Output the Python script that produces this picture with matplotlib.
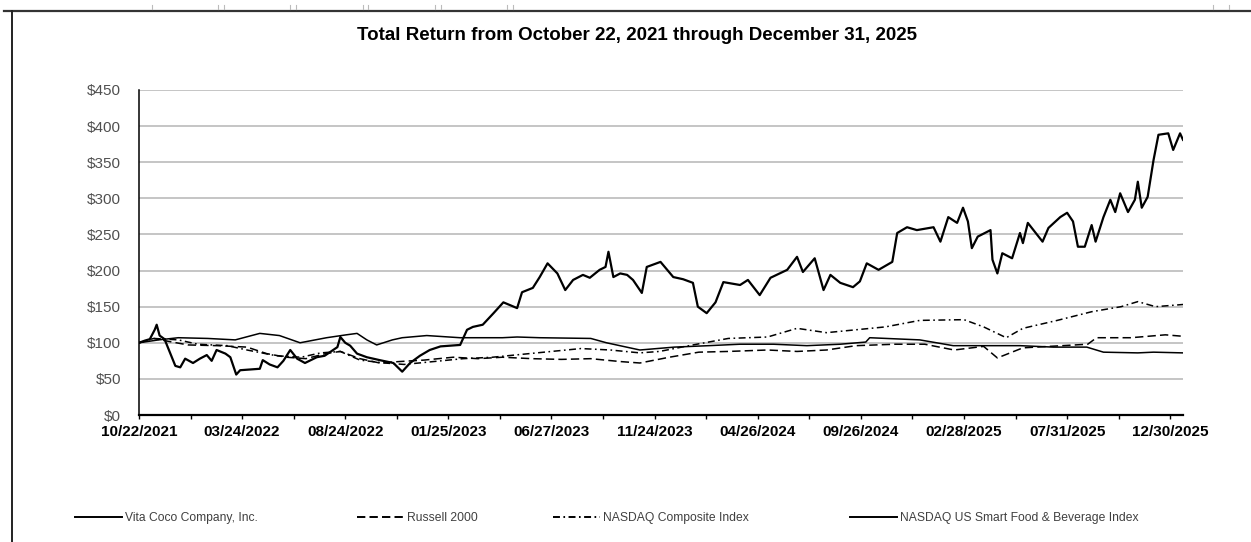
import matplotlib
matplotlib.use('Agg')
import matplotlib.pyplot as plt
from matplotlib.lines import Line2D
from matplotlib.ticker import FixedLocator

plt.rcParams['font.family'] = ['Liberation Sans', 'DejaVu Sans']
plt.rcParams['lines.scale_dashes'] = False

# ---------------- data (x = trading-day index since 10/22/2021) ----------------
tick_labels = ["10/22/2021", "03/24/2022", "08/24/2022", "01/25/2023", "06/27/2023",
               "11/24/2023", "04/26/2024", "09/26/2024", "02/28/2025", "07/31/2025",
               "12/30/2025"]
tick_days = [0, 105, 210, 315, 420, 525, 630, 735, 840, 945, 1050]
last_day = 1063

vita_days = [0, 6, 11, 16, 18, 21, 26, 32, 37, 42, 47, 55, 62, 69, 74, 79, 88, 93, 99, 103,
             113, 123, 126, 133, 141, 147, 154, 161, 169, 181, 189, 202, 205, 210, 215, 222,
             232, 245, 259, 268, 276, 286, 296, 307, 317, 327, 334, 340, 350, 361, 371, 378,
             385, 390, 401, 408, 416, 426, 434, 442, 452, 459, 469, 475, 478, 483, 490, 497,
             503, 512, 517, 531, 544, 554, 564, 569, 578, 587, 595, 612, 620, 632, 643, 660,
             670, 676, 688, 697, 704, 714, 727, 734, 741, 753, 767, 772, 782, 792, 809, 816,
             824, 833, 839, 844, 848, 854, 867, 869, 874, 879, 889, 897, 900, 905, 920, 926,
             938, 945, 951, 956, 963, 970, 974, 982, 989, 994, 999, 1007, 1014, 1017, 1021,
             1027, 1033, 1038, 1048, 1053, 1060, 1063]
vita_vals = [100, 103, 105, 118, 125, 110, 105, 85, 68, 66, 78, 72, 78, 83, 75, 90, 85, 80, 56, 62,
             63, 64, 76, 70, 66, 75, 90, 78, 72, 80, 82, 94, 108, 100, 96, 85,
             80, 76, 72, 60, 72, 82, 90, 95, 96, 97, 118, 122, 125, 141, 156, 152,
             148, 170, 176, 191, 210, 196, 173, 187, 194, 190, 201, 205, 226, 191, 196, 194,
             187, 169, 205, 212, 191, 188, 183, 150, 141, 156, 184, 180, 187, 166, 190, 201,
             219, 198, 217, 173, 194, 183, 177, 185, 210, 201, 212, 252, 260, 256, 260, 240,
             274, 266, 287, 268, 231, 247, 256, 215, 196, 224, 217, 252, 238, 266, 240, 259,
             274, 280, 268, 233, 233, 263, 240, 274, 298, 281, 307, 281, 298, 323, 287,
             302, 353, 388, 390, 367, 390, 381]

russell_days = [0, 15, 30, 50, 80, 110, 130, 150, 170, 190, 205, 225, 245, 265, 290, 320, 345,
                370, 400, 430, 460, 490, 510, 540, 570, 600, 640, 670, 700, 730, 770, 800,
                830, 860, 874, 900, 940, 966, 975, 1010, 1045, 1063]
russell_vals = [100, 106, 102, 97, 96, 94, 85, 80, 78, 85, 88, 78, 72, 74, 76, 80, 78,
                80, 78, 77, 78, 74, 72, 80, 87, 88, 90, 88, 90, 96, 98, 98,
                90, 95, 79, 93, 96, 98, 107, 107, 111, 109]

nasdaq_days = [0, 15, 40, 60, 90, 110, 140, 165, 185, 205, 225, 250, 270, 300, 330, 360, 390,
               420, 450, 480, 510, 530, 560, 600, 640, 670, 700, 730, 760, 795, 840, 860,
               883, 900, 935, 970, 1000, 1017, 1035, 1063]
nasdaq_vals = [100, 106, 104, 98, 96, 90, 82, 80, 86, 88, 76, 72, 70, 74, 78, 80, 84,
               88, 92, 90, 86, 88, 96, 106, 108, 120, 114, 118, 122, 131, 132, 122,
               107, 120, 131, 143, 150, 157, 150, 153]

food_days = [0, 20, 40, 70, 98, 123, 143, 164, 191, 211, 222, 232, 242, 258, 268, 293, 327,
             370, 385, 408, 460, 476, 510, 545, 580, 612, 646, 680, 714, 740, 744, 795,
             829, 863, 897, 931, 965, 982, 1017, 1033, 1063]
food_vals = [100, 104, 107, 106, 104, 113, 110, 100, 107, 111, 113, 104, 97, 104, 107, 110, 107,
             107, 108, 107, 106, 100, 90, 94, 96, 98, 98, 96, 98, 101, 107, 104,
             96, 96, 96, 94, 94, 87, 86, 87, 86]

series_names = ["Vita Coco Company, Inc.", "Russell 2000", "NASDAQ Composite Index",
                "NASDAQ US Smart Food & Beverage Index"]

# ---------------- figure ----------------
W, H = 1251, 542
fig = plt.figure(figsize=(W / 100, H / 100), dpi=100)
ax = fig.add_axes([139 / W, 1 - 415 / H, (1183 - 139) / W, (415 - 90) / H])

dash_r = (0, (6, 3))
dash_n = (0, (5, 2.5, 1.2, 2.5))
l_food, = ax.plot(food_days, food_vals, color='black', lw=1.1, zorder=3)
l_rus, = ax.plot(russell_days, russell_vals, color='black', lw=1.1, linestyle=dash_r, zorder=3)
l_nas, = ax.plot(nasdaq_days, nasdaq_vals, color='black', lw=1.1, linestyle=dash_n, zorder=3)
l_vita, = ax.plot(vita_days, vita_vals, color='black', lw=1.6, zorder=4)

ax.set_xlim(0, last_day)
ax.set_ylim(0, 450)

yt = list(range(0, 451, 50))
ax.set_yticks(yt)
ax.set_yticklabels([f"${v}" for v in yt])
ax.yaxis.grid(True, color='#c0c0c0', lw=1.3)
ax.set_axisbelow(True)
ax.tick_params(axis='y', length=0, pad=13, labelsize=11, labelcolor='#505050')

ax.xaxis.set_major_locator(FixedLocator(tick_days))
ax.set_xticklabels(tick_labels, fontweight='bold')
minor = [d + 52.5 for d in tick_days[:-1]]
ax.xaxis.set_minor_locator(FixedLocator(minor))
ax.tick_params(axis='x', which='both', direction='out', length=3, width=1, color='black')
ax.tick_params(axis='x', which='major', labelsize=11, pad=4)

for s in ['top', 'right']:
    ax.spines[s].set_visible(False)
ax.spines['left'].set_linewidth(1.1)
ax.spines['bottom'].set_linewidth(1.6)

fig.text(637 / W, 1 - 35 / H, "Total Return from October 22, 2021 through December 31, 2025",
         ha='center', va='center', fontsize=13.5, fontweight='bold')

# legend: four single-entry legends placed like the original
leg_x = [75, 357, 553, 850]
handles = [Line2D([], [], color='black', lw=1.4),
           Line2D([], [], color='black', lw=1.4, linestyle=dash_r),
           Line2D([], [], color='black', lw=1.4, linestyle=dash_n),
           Line2D([], [], color='black', lw=1.4)]
for hx, h, name in zip(leg_x, handles, series_names):
    lg = fig.legend([h], [name], loc='center left', bbox_to_anchor=(hx / W, 1 - 518 / H),
                    frameon=False, borderpad=0, borderaxespad=0, handlelength=3.9,
                    handletextpad=0.25, fontsize=8.7, labelcolor='#404040')

# page frame lines
fig.add_artist(Line2D([4 / W, 1], [1 - 10.5 / H, 1 - 10.5 / H], color='#333333', lw=1.6,
                      transform=fig.transFigure))
fig.add_artist(Line2D([11.5 / W, 11.5 / W], [0, 1 - 10.5 / H], color='#222222', lw=1.4,
                      transform=fig.transFigure))
for tx in [152, 218, 224, 290, 296, 363, 368, 435, 441, 507, 513, 1213, 1229]:
    fig.add_artist(Line2D([tx / W, tx / W], [1 - 5 / H, 1 - 9 / H], color='#bbbbbb', lw=0.8,
                          transform=fig.transFigure))

fig.savefig('out.png', dpi=100)
